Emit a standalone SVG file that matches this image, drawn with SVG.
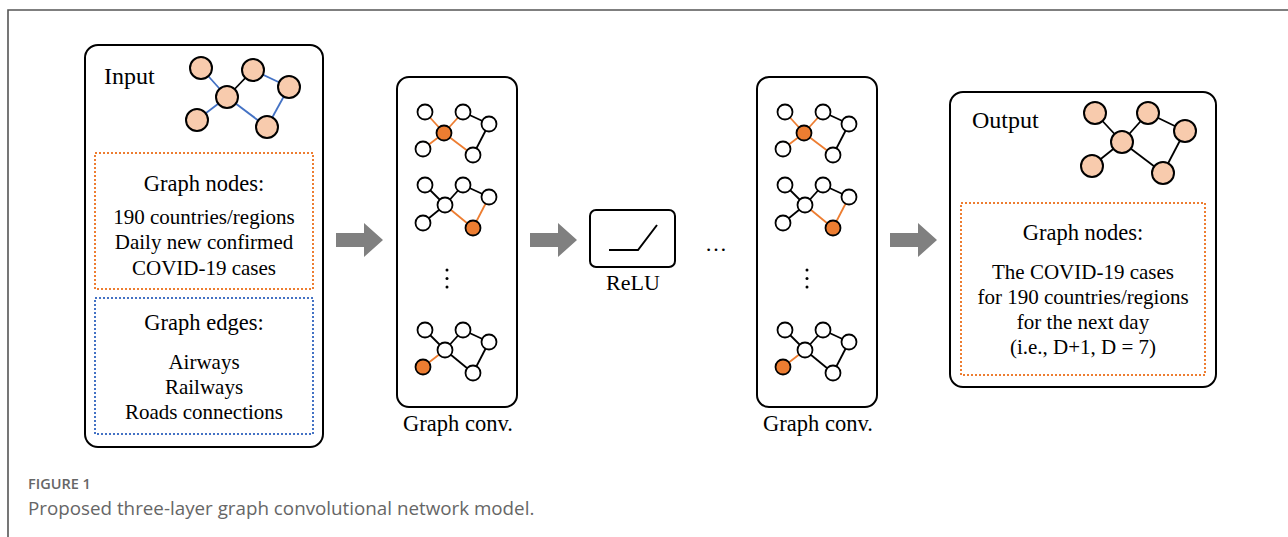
<svg xmlns="http://www.w3.org/2000/svg" width="1288" height="537" viewBox="0 0 1288 537">
<style>
.box{fill:#fff;stroke:#000;stroke-width:2}
.t{font-family:"Liberation Serif","Times New Roman",serif;fill:#000}
.c{text-anchor:middle}
.h{font-size:22.5px}
.b{font-size:21px}
.e{stroke:#000;stroke-width:1.8}
.eb{stroke:#4472C4;stroke-width:1.8}
.eo{stroke:#ED7D31;stroke-width:1.8}
.np{fill:#F8CBAD;stroke:#000;stroke-width:2}
.nw{fill:#fff;stroke:#000;stroke-width:1.8}
.no{fill:#ED7D31;stroke:#000;stroke-width:1.8}
.arr{fill:#808080}
.dot-o{fill:none;stroke:#ED7D31;stroke-width:2;stroke-dasharray:2 2}
.dot-b{fill:none;stroke:#4472C4;stroke-width:2;stroke-dasharray:2 2}
</style>
<rect width="1288" height="537" fill="#fff"/>
<path d="M8,537 V10 H1288" fill="none" stroke="#555" stroke-width="1.6"/>

<g id="input">
<rect class="box" x="85" y="45" width="238" height="402" rx="13"/>
<text class="t" x="104" y="84" font-size="24">Input</text>
<line class="eb" x1="201" y1="68" x2="227" y2="97"/>
<line class="e" x1="253" y1="70" x2="227" y2="97"/>
<line class="eb" x1="253" y1="70" x2="289" y2="87"/>
<line class="eb" x1="289" y1="87" x2="267" y2="127"/>
<line class="eb" x1="227" y1="97" x2="267" y2="127"/>
<line class="eb" x1="227" y1="97" x2="197" y2="120"/>
<circle class="np" cx="201" cy="68" r="11"/>
<circle class="np" cx="253" cy="70" r="11"/>
<circle class="np" cx="289" cy="87" r="11"/>
<circle class="np" cx="227" cy="97" r="11"/>
<circle class="np" cx="197" cy="120" r="11"/>
<circle class="np" cx="267" cy="127" r="11"/>
<rect class="dot-o" x="95" y="153" width="218" height="136"/>
<text class="t c h" x="204" y="191">Graph nodes:</text>
<text class="t c b" x="204" y="224">190 countries/regions</text>
<text class="t c b" x="204" y="249">Daily new confirmed</text>
<text class="t c b" x="204" y="275">COVID-19 cases</text>
<rect class="dot-b" x="95" y="298" width="218" height="136"/>
<text class="t c h" x="204" y="330">Graph edges:</text>
<text class="t c b" x="204" y="369">Airways</text>
<text class="t c b" x="204" y="394">Railways</text>
<text class="t c b" x="204" y="419">Roads connections</text>
</g>

<g id="arrows">
<path class="arr" d="M336,233 H364 V223 L383,240 L364,257 V247 H336 Z"/>
<path class="arr" d="M530,233 H558 V223 L577,240 L558,257 V247 H530 Z"/>
<path class="arr" d="M890,233 H918 V223 L937,240 L918,257 V247 H890 Z"/>
</g>

<defs>
<g id="g1">
<line class="eo" x1="425" y1="112" x2="444" y2="133"/>
<line class="eo" x1="463" y1="112" x2="444" y2="133"/>
<line class="eo" x1="444" y1="133" x2="423" y2="149"/>
<line class="eo" x1="444" y1="133" x2="473" y2="155"/>
<line class="e" x1="463" y1="112" x2="489" y2="124"/>
<line class="e" x1="489" y1="124" x2="473" y2="155"/>
<circle class="nw" cx="425" cy="112" r="7.5"/>
<circle class="nw" cx="463" cy="112" r="7.5"/>
<circle class="nw" cx="489" cy="124" r="7.5"/>
<circle class="no" cx="444" cy="133" r="7.5"/>
<circle class="nw" cx="423" cy="149" r="7.5"/>
<circle class="nw" cx="473" cy="155" r="7.5"/>
</g>
<g id="g2">
<line class="e" x1="425" y1="185" x2="445" y2="205"/>
<line class="e" x1="463" y1="185" x2="445" y2="205"/>
<line class="e" x1="445" y1="205" x2="423" y2="223"/>
<line class="eo" x1="445" y1="205" x2="473" y2="228"/>
<line class="e" x1="463" y1="185" x2="489" y2="197"/>
<line class="eo" x1="489" y1="197" x2="473" y2="228"/>
<circle class="nw" cx="425" cy="185" r="7.5"/>
<circle class="nw" cx="463" cy="185" r="7.5"/>
<circle class="nw" cx="489" cy="197" r="7.5"/>
<circle class="nw" cx="445" cy="205" r="7.5"/>
<circle class="nw" cx="423" cy="223" r="7.5"/>
<circle class="no" cx="473" cy="228" r="7.5"/>
</g>
<g id="g3">
<line class="e" x1="425" y1="330" x2="445" y2="350"/>
<line class="e" x1="463" y1="330" x2="445" y2="350"/>
<line class="eo" x1="445" y1="350" x2="423" y2="367"/>
<line class="e" x1="445" y1="350" x2="473" y2="373"/>
<line class="e" x1="463" y1="330" x2="489" y2="342"/>
<line class="e" x1="489" y1="342" x2="473" y2="373"/>
<circle class="nw" cx="425" cy="330" r="7.5"/>
<circle class="nw" cx="463" cy="330" r="7.5"/>
<circle class="nw" cx="489" cy="342" r="7.5"/>
<circle class="nw" cx="445" cy="350" r="7.5"/>
<circle class="no" cx="423" cy="367" r="7.5"/>
<circle class="nw" cx="473" cy="373" r="7.5"/>
</g>
<g id="vdots">
<circle cx="447" cy="270" r="1.5" fill="#000"/>
<circle cx="447" cy="278.5" r="1.5" fill="#000"/>
<circle cx="447" cy="287" r="1.5" fill="#000"/>
</g>
</defs>

<g id="conv1">
<rect class="box" x="397" y="77" width="120" height="330" rx="12"/>
<use href="#g1"/>
<use href="#g2"/>
<use href="#vdots"/>
<use href="#g3"/>
<text class="t c h" x="458" y="431">Graph conv.</text>
</g>

<g id="relu">
<rect class="box" x="590" y="210" width="85" height="57" rx="6"/>
<polyline points="609,250 638,250 657,225" fill="none" stroke="#000" stroke-width="2"/>
<text class="t c" x="633" y="290" font-size="22">ReLU</text>
</g>

<g id="ellipsis">
<text class="t c" x="716" y="251" font-size="22">…</text>
</g>

<g id="conv2">
<rect class="box" x="757" y="77" width="120" height="330" rx="12"/>
<g transform="translate(360,0)">
<use href="#g1"/>
<use href="#g2"/>
<use href="#vdots"/>
<use href="#g3"/>
</g>
<text class="t c h" x="818" y="431">Graph conv.</text>
</g>

<g id="output">
<rect class="box" x="950" y="92" width="266" height="295" rx="13"/>
<text class="t" x="972" y="128" font-size="24">Output</text>
<line class="e" x1="1095" y1="113" x2="1122" y2="142"/>
<line class="e" x1="1148" y1="113" x2="1122" y2="142"/>
<line class="e" x1="1148" y1="113" x2="1185" y2="131"/>
<line class="e" x1="1185" y1="131" x2="1163" y2="173"/>
<line class="e" x1="1122" y1="142" x2="1163" y2="173"/>
<line class="e" x1="1122" y1="142" x2="1092" y2="166"/>
<circle class="np" cx="1095" cy="113" r="11"/>
<circle class="np" cx="1148" cy="113" r="11"/>
<circle class="np" cx="1185" cy="131" r="11"/>
<circle class="np" cx="1122" cy="142" r="11"/>
<circle class="np" cx="1092" cy="166" r="11"/>
<circle class="np" cx="1163" cy="173" r="11"/>
<rect class="dot-o" x="961" y="203" width="244" height="172"/>
<text class="t c h" x="1083" y="240">Graph nodes:</text>
<text class="t c b" x="1083" y="279">The COVID-19 cases</text>
<text class="t c b" x="1083" y="304">for 190 countries/regions</text>
<text class="t c b" x="1083" y="329">for the next day</text>
<text class="t c b" x="1083" y="354">(i.e., D+1, D = 7)</text>
</g>

<g id="caption">
<text x="28" y="489" font-family="'Open Sans','Noto Sans',sans-serif" font-size="14.5" font-weight="600" fill="#666">FIGURE 1</text>
<text x="28" y="515" font-family="'Open Sans','Noto Sans',sans-serif" font-size="18.8" fill="#666">Proposed three-layer graph convolutional network model.</text>
</g>
</svg>
